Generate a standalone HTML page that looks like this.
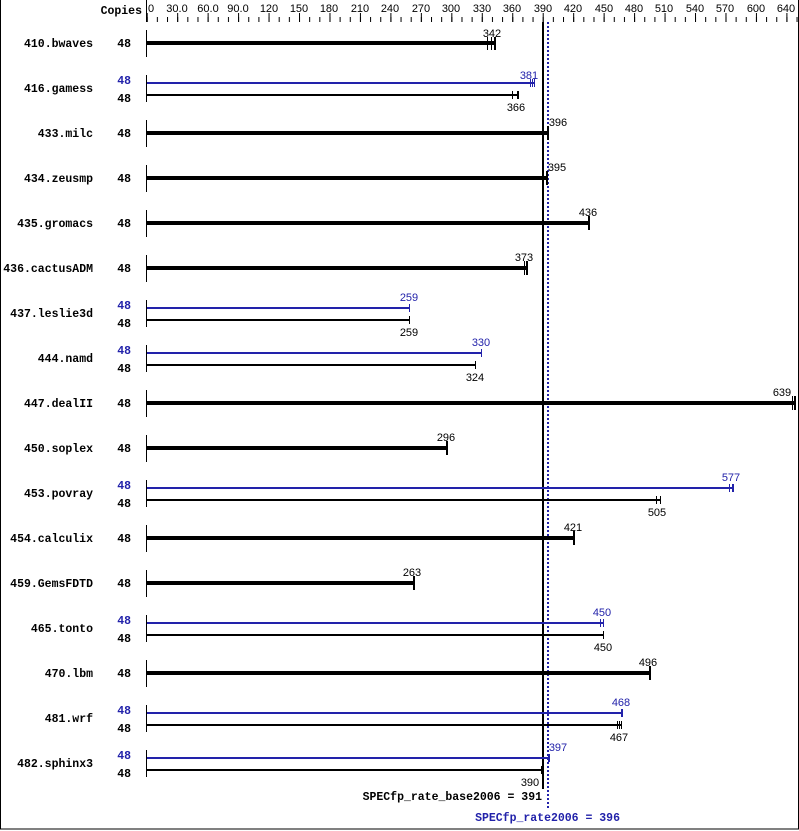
<!DOCTYPE html>
<html><head><meta charset="utf-8"><style>
html,body{margin:0;padding:0;background:#fff}
svg{display:block}
.n{font-family:"Liberation Mono",monospace;font-weight:bold;font-size:11.5px}
.v{font-family:"Liberation Sans",sans-serif;font-size:11px}
.ax{font-family:"Liberation Sans",sans-serif;font-size:11px}
</style></head><body>
<svg width="799" height="831" viewBox="0 0 799 831" xmlns="http://www.w3.org/2000/svg">
<defs>
<pattern id="mn" x="146.7" y="0" width="10.154" height="831" patternUnits="userSpaceOnUse"><rect x="0" y="17" width="1" height="5" fill="#000"/></pattern>
<pattern id="mj" x="146.7" y="0" width="30.462" height="831" patternUnits="userSpaceOnUse"><rect x="0" y="13" width="1" height="9" fill="#000"/></pattern>
</defs>
<rect x="0.5" y="-1" width="798" height="830" fill="none" stroke="#000"/>
<rect x="146.7" y="0" width="652" height="22" fill="url(#mn)"/>
<rect x="146.7" y="0" width="652" height="22" fill="url(#mj)"/>
<rect x="146" y="0" width="1" height="22" fill="#000"/>
<text class="n" x="142" y="14" text-anchor="end">Copies</text>
<g class="ax" text-anchor="middle">
<text x="148" y="12" text-anchor="start">0</text>
<text x="177" y="12">30.0</text><text x="208" y="12">60.0</text><text x="238" y="12">90.0</text>
<text x="269" y="12">120</text><text x="299" y="12">150</text><text x="329" y="12">180</text>
<text x="360" y="12">210</text><text x="390" y="12">240</text><text x="421" y="12">270</text>
<text x="451" y="12">300</text><text x="482" y="12">330</text><text x="512" y="12">360</text>
<text x="543" y="12">390</text><text x="573" y="12">420</text><text x="604" y="12">450</text>
<text x="634" y="12">480</text><text x="664" y="12">510</text><text x="695" y="12">540</text>
<text x="725" y="12">570</text><text x="756" y="12">600</text><text x="786" y="12">640</text>
</g>
<line x1="543" y1="22" x2="543" y2="789" stroke="#000" stroke-width="2"/>
<line x1="548" y1="22" x2="548" y2="808" stroke="#2222aa" stroke-width="2" stroke-dasharray="2,2"/>
<g fill="#000">
<!-- axis segments -->
<rect x="146" y="30" width="1" height="27"/><rect x="146" y="75" width="1" height="27"/>
<rect x="146" y="120" width="1" height="27"/><rect x="146" y="165" width="1" height="27"/>
<rect x="146" y="210" width="1" height="27"/><rect x="146" y="255" width="1" height="27"/>
<rect x="146" y="300" width="1" height="27"/><rect x="146" y="345" width="1" height="27"/>
<rect x="146" y="390" width="1" height="27"/><rect x="146" y="435" width="1" height="27"/>
<rect x="146" y="480" width="1" height="27"/><rect x="146" y="525" width="1" height="27"/>
<rect x="146" y="570" width="1" height="27"/><rect x="146" y="615" width="1" height="27"/>
<rect x="146" y="660" width="1" height="27"/><rect x="146" y="705" width="1" height="27"/>
<rect x="146" y="750" width="1" height="27"/>
</g>
<g class="n" text-anchor="end">
<text x="93" y="47">410.bwaves</text><text x="93" y="92">416.gamess</text>
<text x="93" y="137">433.milc</text><text x="93" y="182">434.zeusmp</text>
<text x="93" y="227">435.gromacs</text><text x="93" y="272">436.cactusADM</text>
<text x="93" y="317">437.leslie3d</text><text x="93" y="362">444.namd</text>
<text x="93" y="407">447.dealII</text><text x="93" y="452">450.soplex</text>
<text x="93" y="497">453.povray</text><text x="93" y="542">454.calculix</text>
<text x="93" y="587">459.GemsFDTD</text><text x="93" y="632">465.tonto</text>
<text x="93" y="677">470.lbm</text><text x="93" y="722">481.wrf</text>
<text x="93" y="767">482.sphinx3</text>
</g>
<g class="n" text-anchor="end">
<text x="131" y="47">48</text>
<text x="131" y="84" fill="#2222aa">48</text><text x="131" y="102">48</text>
<text x="131" y="137">48</text><text x="131" y="182">48</text><text x="131" y="227">48</text><text x="131" y="272">48</text>
<text x="131" y="309" fill="#2222aa">48</text><text x="131" y="327">48</text>
<text x="131" y="354" fill="#2222aa">48</text><text x="131" y="372">48</text>
<text x="131" y="407">48</text><text x="131" y="452">48</text>
<text x="131" y="489" fill="#2222aa">48</text><text x="131" y="507">48</text>
<text x="131" y="542">48</text><text x="131" y="587">48</text>
<text x="131" y="624" fill="#2222aa">48</text><text x="131" y="642">48</text>
<text x="131" y="677">48</text>
<text x="131" y="714" fill="#2222aa">48</text><text x="131" y="732">48</text>
<text x="131" y="759" fill="#2222aa">48</text><text x="131" y="777">48</text>
</g>
<!-- single thick bars -->
<g fill="#000">
<rect x="147" y="41" width="347" height="4"/><rect x="487" y="37" width="1" height="13"/><rect x="491" y="37" width="1" height="13"/><rect x="494" y="37" width="2" height="13"/>
<rect x="147" y="131" width="402" height="4"/><rect x="547" y="126" width="2" height="14"/>
<rect x="147" y="176" width="401" height="4"/><rect x="546" y="171" width="2" height="14"/>
<rect x="147" y="221" width="442" height="4"/><rect x="588" y="216" width="2" height="14"/>
<rect x="147" y="266" width="379" height="4"/><rect x="524" y="261" width="1" height="14"/><rect x="526" y="261" width="2" height="14"/>
<rect x="147" y="401" width="649" height="4"/><rect x="792" y="396" width="1" height="14"/><rect x="794" y="396" width="2" height="14"/>
<rect x="147" y="446" width="300" height="4"/><rect x="446" y="441" width="2" height="14"/>
<rect x="147" y="536" width="427" height="4"/><rect x="573" y="531" width="2" height="14"/>
<rect x="147" y="581" width="267" height="4"/><rect x="413" y="576" width="2" height="14"/>
<rect x="147" y="671" width="503" height="4"/><rect x="649" y="666" width="2" height="14"/>
</g>
<g class="v" text-anchor="middle">
<text x="492" y="37">342</text><text x="558" y="126">396</text><text x="557" y="171">395</text>
<text x="588" y="216">436</text><text x="524" y="261">373</text><text x="782" y="396">639</text>
<text x="446" y="441">296</text><text x="573" y="531">421</text><text x="412" y="576">263</text>
<text x="648" y="666">496</text>
</g>
<!-- paired bars -->
<g fill="#2222aa">
<rect x="147" y="82" width="387" height="2"/><rect x="530" y="79" width="1" height="8"/><rect x="532" y="79" width="1" height="8"/><rect x="534" y="79" width="1" height="8"/>
<rect x="147" y="307" width="263" height="2"/><rect x="409" y="304" width="1" height="8"/>
<rect x="147" y="352" width="335" height="2"/><rect x="481" y="349" width="1" height="8"/>
<rect x="147" y="487" width="586" height="2"/><rect x="729" y="484" width="1" height="8"/><rect x="732" y="484" width="2" height="8"/>
<rect x="147" y="622" width="457" height="2"/><rect x="600" y="619" width="1" height="8"/><rect x="603" y="619" width="1" height="8"/>
<rect x="147" y="712" width="475" height="2"/><rect x="621" y="709" width="2" height="8"/>
<rect x="147" y="757" width="403" height="2"/><rect x="548" y="754" width="2" height="8"/>
</g>
<g fill="#000">
<rect x="147" y="94" width="372" height="2"/><rect x="512" y="91" width="1" height="8"/><rect x="517" y="91" width="2" height="8"/>
<rect x="147" y="319" width="263" height="2"/><rect x="409" y="316" width="1" height="8"/>
<rect x="147" y="364" width="329" height="2"/><rect x="475" y="361" width="1" height="8"/>
<rect x="147" y="499" width="513" height="2"/><rect x="656" y="496" width="1" height="8"/><rect x="660" y="496" width="1" height="8"/>
<rect x="147" y="634" width="457" height="2"/><rect x="603" y="631" width="1" height="8"/>
<rect x="147" y="724" width="474" height="2"/><rect x="617" y="721" width="1" height="8"/><rect x="619" y="721" width="1" height="8"/><rect x="621" y="721" width="1" height="8"/>
<rect x="147" y="769" width="396" height="2"/><rect x="541" y="766" width="2" height="8"/>
</g>
<g class="v" text-anchor="middle" fill="#2222aa">
<text x="529" y="79">381</text><text x="409" y="301">259</text><text x="481" y="346">330</text>
<text x="731" y="481">577</text><text x="602" y="616">450</text><text x="621" y="706">468</text>
<text x="558" y="751">397</text>
</g>
<g class="v" text-anchor="middle">
<text x="516" y="111">366</text><text x="409" y="336">259</text><text x="475" y="381">324</text>
<text x="657" y="516">505</text><text x="603" y="651">450</text><text x="619" y="741">467</text>
<text x="530" y="786">390</text>
</g>
<text class="n" x="542" y="800" text-anchor="end">SPECfp_rate_base2006 = 391</text>
<text class="n" x="620" y="821" text-anchor="end" fill="#2222aa">SPECfp_rate2006 = 396</text>
</svg>
</body></html>
